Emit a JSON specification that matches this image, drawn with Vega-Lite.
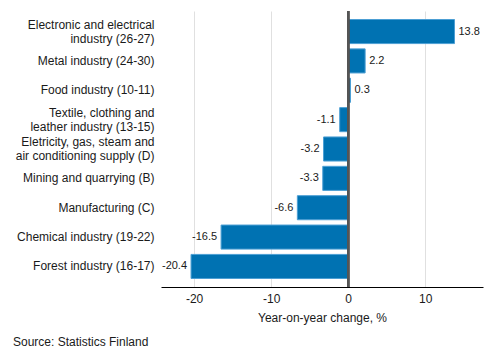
{
  "$schema": "https://vega.github.io/schema/vega-lite/v6.json",
  "width": 322,
  "height": 276,
  "autosize": {"type": "none"},
  "padding": {"left": 161, "top": 11, "right": 10, "bottom": 73},
  "config": {
    "font": "Liberation Sans",
    "view": {"stroke": null},
    "locale": {"number": {"decimal": ".", "thousands": ",", "grouping": [3], "currency": ["$", ""], "minus": "-"}},
    "axis": {"labelFont": "Liberation Sans", "titleFont": "Liberation Sans", "labelFontSize": 12, "titleFontSize": 12, "labelColor": "#1a1a1a", "titleColor": "#1a1a1a", "titleFontWeight": "normal"}
  },
  "title": {
    "text": "Source: Statistics Finland",
    "orient": "bottom",
    "anchor": "start",
    "frame": "group",
    "fontSize": 12,
    "fontWeight": "normal",
    "color": "#1a1a1a",
    "font": "Liberation Sans",
    "dx": -148,
    "offset": 14
  },
  "data": {
    "values": [
      {"industry": "Electronic and electrical|industry (26-27)", "value": 13.8},
      {"industry": "Metal industry (24-30)", "value": 2.2},
      {"industry": "Food industry (10-11)", "value": 0.3},
      {"industry": "Textile, clothing and|leather industry (13-15)", "value": -1.1},
      {"industry": "Eletricity, gas, steam and|air conditioning supply (D)", "value": -3.2},
      {"industry": "Mining and quarrying (B)", "value": -3.3},
      {"industry": "Manufacturing (C)", "value": -6.6},
      {"industry": "Chemical industry (19-22)", "value": -16.5},
      {"industry": "Forest industry (16-17)", "value": -20.4}
    ]
  },
  "encoding": {
    "y": {
      "field": "industry",
      "type": "nominal",
      "sort": null,
      "scale": {"paddingInner": 0.18, "paddingOuter": 0.29},
      "axis": {
        "title": null,
        "domain": false,
        "ticks": false,
        "grid": false,
        "labelPadding": 7,
        "labelLimit": 200,
        "labelLineHeight": 14,
        "labelOffset": {"expr": "indexof(datum.value, '|') >= 0 ? -7 : 0"},
        "labelExpr": "split(datum.label, '|')"
      }
    }
  },
  "layer": [
    {
      "mark": {"type": "bar", "fill": "#0072B2", "stroke": "#4c9fd4", "strokeWidth": 1},
      "encoding": {
        "x": {
          "field": "value",
          "type": "quantitative",
          "scale": {"domain": [-24.3, 17.5], "nice": false, "zero": false},
          "axis": {
            "title": "Year-on-year change, %",
            "values": [-20, -10, 0, 10],
            "domain": true,
            "domainColor": "#000",
            "domainWidth": 1,
            "ticks": false,
            "grid": true,
            "gridColor": "#e0e0e0",
            "gridWidth": 1,
            "labelPadding": 6,
            "titlePadding": 8
          }
        }
      }
    },
    {
      "mark": {"type": "rule", "color": "#555", "strokeWidth": 2},
      "encoding": {"x": {"datum": 0}, "y": {"value": 0}, "y2": {"value": 276}}
    },
    {
      "transform": [{"filter": "datum.value >= 0"}],
      "mark": {"type": "text", "align": "left", "dx": 4, "fontSize": 11, "color": "#1a1a1a"},
      "encoding": {
        "x": {"field": "value", "type": "quantitative"},
        "text": {"field": "value", "type": "quantitative", "format": ".1f"}
      }
    },
    {
      "transform": [{"filter": "datum.value < 0"}],
      "mark": {"type": "text", "align": "right", "dx": -4, "fontSize": 11, "color": "#1a1a1a"},
      "encoding": {
        "x": {"field": "value", "type": "quantitative"},
        "text": {"field": "value", "type": "quantitative", "format": ".1f"}
      }
    }
  ]
}
